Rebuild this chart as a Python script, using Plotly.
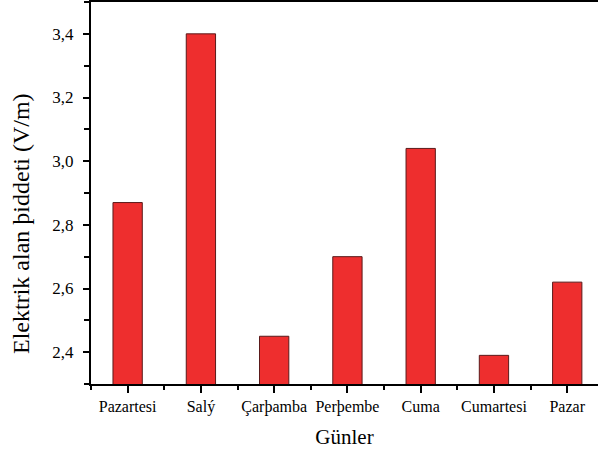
import plotly.graph_objects as go

days = ["Pazartesi", "Salý", "Çarþamba", "Perþembe", "Cuma", "Cumartesi", "Pazar"]
values = [2.87, 3.40, 2.45, 2.70, 3.04, 2.39, 2.62]
positions = list(range(len(days)))
y_ticks = [2.4, 2.6, 2.8, 3.0, 3.2, 3.4]
x_title = "Günler"
y_title = "Elektrik alan þiddeti (V/m)"

fig = go.Figure(go.Bar(
    x=positions, y=values, width=0.4,
    marker=dict(color="#EE2E2E", line=dict(color="#5a1a1a", width=1)),
))

font_family = "Liberation Serif"
fig.update_layout(
    width=598, height=455,
    margin=dict(l=91, r=0, t=2, b=71, autoexpand=False),
    plot_bgcolor="white", paper_bgcolor="white",
    separators=",.",
    showlegend=False,
    font=dict(family=font_family, color="black", size=16),
)
fig.update_xaxes(
    automargin=False,
    range=[-0.5, 6.42],
    tickvals=positions, ticktext=days,
    ticks="outside", ticklen=7, tickwidth=1.5, tickcolor="black",
    minor=dict(tickmode="linear", tick0=0.5, dtick=1, ticks="outside", ticklen=4, tickwidth=1.5, tickcolor="black"),
    showline=True, linecolor="black", linewidth=2, mirror=True,
    showgrid=False, zeroline=False,
    tickfont=dict(size=16, family=font_family),
    title=dict(text=x_title, font=dict(size=21, family=font_family), standoff=14),
)
fig.update_yaxes(
    automargin=False,
    range=[2.3, 3.5],
    tickvals=y_ticks, tickformat=".1f",
    ticks="outside", ticklen=6, tickwidth=1.5, tickcolor="black",
    minor=dict(tickmode="linear", tick0=2.3, dtick=0.1, ticks="outside", ticklen=5, tickwidth=1.5, tickcolor="black"),
    showline=True, linecolor="black", linewidth=2,
    showgrid=False, zeroline=False,
    ticklabelstandoff=6,
    tickfont=dict(size=17, family=font_family),
)
fig.add_annotation(
    text=y_title, textangle=-90, showarrow=False,
    xref="paper", yref="paper", x=-0.138, y=0.419,
    xanchor="center", yanchor="middle",
    font=dict(size=24, family=font_family, color="black"),
)

fig.write_html(
    "out.html",
    config={"displayModeBar": False},
    post_script="document.body.style.margin='0';document.body.style.overflow='hidden';",
)
